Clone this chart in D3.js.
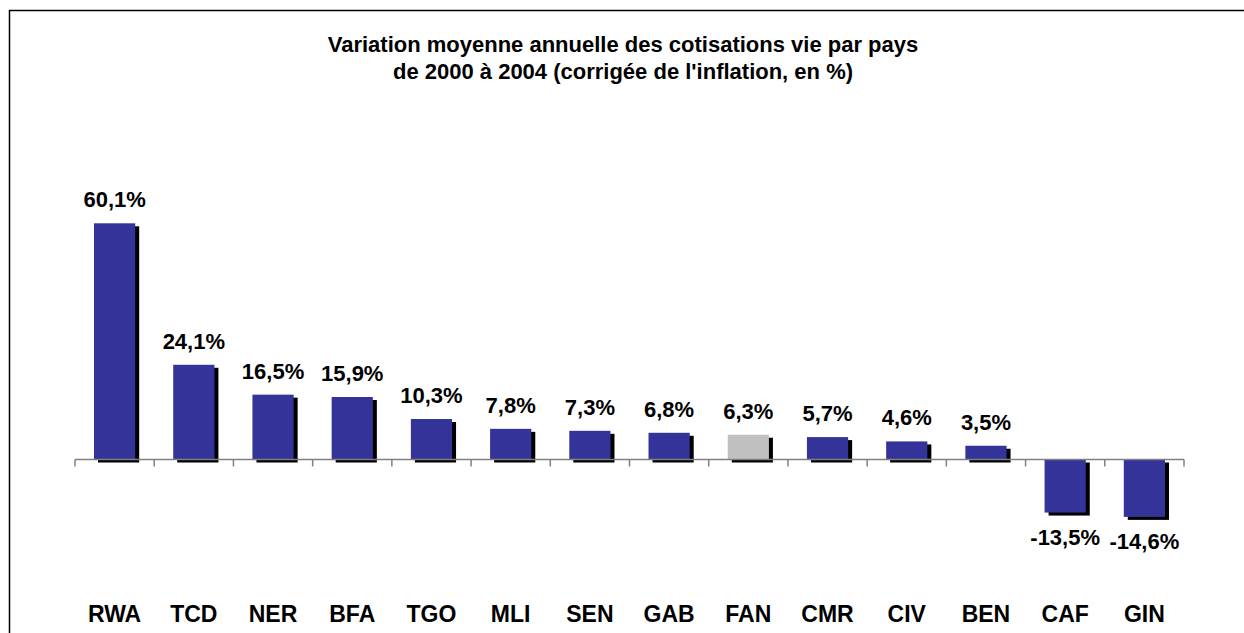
<!DOCTYPE html>
<html lang="fr">
<head>
<meta charset="utf-8">
<script src="https://d3js.org/d3.v7.min.js"></script>
<style>
  html, body { margin: 0; padding: 0; background: #fff; overflow: hidden; }
  svg { display: block; }
  text { font-family: "Liberation Sans", Arial, sans-serif; font-weight: bold; fill: #000; }
</style>
</head>
<body>
<div id="chart"></div>
<script>
// donnees
var pays = ["RWA", "TCD", "NER", "BFA", "TGO", "MLI", "SEN", "GAB", "FAN", "CMR", "CIV", "BEN", "CAF", "GIN"];
var variation = [60.1, 24.1, 16.5, 15.9, 10.3, 7.8, 7.3, 6.8, 6.3, 5.7, 4.6, 3.5, -13.5, -14.6];
var titre = ["Variation moyenne annuelle des cotisations vie par pays",
             "de 2000 à 2004 (corrigée de l'inflation, en %)"];
var paysGris = ["FAN"];

var width = 1244, height = 633;

var svg = d3.select("#chart").append("svg")
  .attr("width", width)
  .attr("height", height);

// cadre (ouvert a droite et en bas)
svg.append("rect")
  .attr("x", 9.5).attr("y", 10.5)
  .attr("width", 1400).attr("height", 800)
  .style("fill", "none")
  .style("stroke", "#000")
  .style("stroke-width", 1.5);

// titre
svg.append("text")
  .attr("text-anchor", "middle")
  .style("font-size", "22px")
  .selectAll("tspan")
  .data(titre)
  .enter().append("tspan")
  .attr("x", 623)
  .attr("y", function(d, i) { return 52 + i * 27; })
  .text(function(d) { return d; });

var x = d3.scaleBand()
  .domain(pays)
  .range([75, 1184])
  .paddingInner(0.48)
  .paddingOuter(0.24);

var y = d3.scaleLinear()
  .domain([-20, 70])
  .range([459.5 + 20 * 3.93, 459.5 - 70 * 3.93]);

var data = pays.map(function(p, i) { return { pays: p, v: variation[i] }; });
var fmt = function(v) {
  return d3.format(".1f")(v).replace(".", ",").replace("\u2212", "-") + "%";
};

// ombres
svg.selectAll("rect.ombre")
  .data(data)
  .enter().append("rect")
  .attr("class", "ombre")
  .attr("x", function(d) { return x(d.pays) + 4; })
  .attr("y", function(d) { return Math.min(y(d.v), y(0)) + 3; })
  .attr("width", x.bandwidth())
  .attr("height", function(d) { return Math.abs(y(d.v) - y(0)); })
  .style("fill", "#000");

// barres
svg.selectAll("rect.barre")
  .data(data)
  .enter().append("rect")
  .attr("class", "barre")
  .attr("x", function(d) { return x(d.pays); })
  .attr("y", function(d) { return Math.min(y(d.v), y(0)); })
  .attr("width", x.bandwidth())
  .attr("height", function(d) { return Math.abs(y(d.v) - y(0)); })
  .style("fill", function(d) { return paysGris.indexOf(d.pays) >= 0 ? "#c0c0c0" : "#333399"; });

// axe horizontal
var step = x.step();
var bords = pays.map(function(p) { return x(p) - (step - x.bandwidth()) / 2; });
bords.push(x.range()[1]);

svg.append("line")
  .attr("x1", x.range()[0]).attr("x2", x.range()[1])
  .attr("y1", y(0)).attr("y2", y(0))
  .style("stroke", "#808080")
  .style("stroke-width", 1.5);

svg.selectAll("line.tick")
  .data(bords)
  .enter().append("line")
  .attr("class", "tick")
  .attr("x1", function(d) { return d; }).attr("x2", function(d) { return d; })
  .attr("y1", y(0)).attr("y2", y(0) + 7)
  .style("stroke", "#808080")
  .style("stroke-width", 1.5);

// etiquettes de valeurs
svg.selectAll("text.valeur")
  .data(data)
  .enter().append("text")
  .attr("class", "valeur")
  .attr("text-anchor", "middle")
  .style("font-size", "22px")
  .attr("x", function(d) { return x(d.pays) + x.bandwidth() / 2; })
  .attr("y", function(d) { return d.v >= 0 ? y(d.v) - 16 : y(d.v) + 32; })
  .text(function(d) { return fmt(d.v); });

// noms des pays
svg.selectAll("text.pays")
  .data(pays)
  .enter().append("text")
  .attr("class", "pays")
  .attr("text-anchor", "middle")
  .style("font-size", "23px")
  .attr("x", function(d) { return x(d) + x.bandwidth() / 2; })
  .attr("y", 622)
  .text(function(d) { return d; });
</script>
</body>
</html>
